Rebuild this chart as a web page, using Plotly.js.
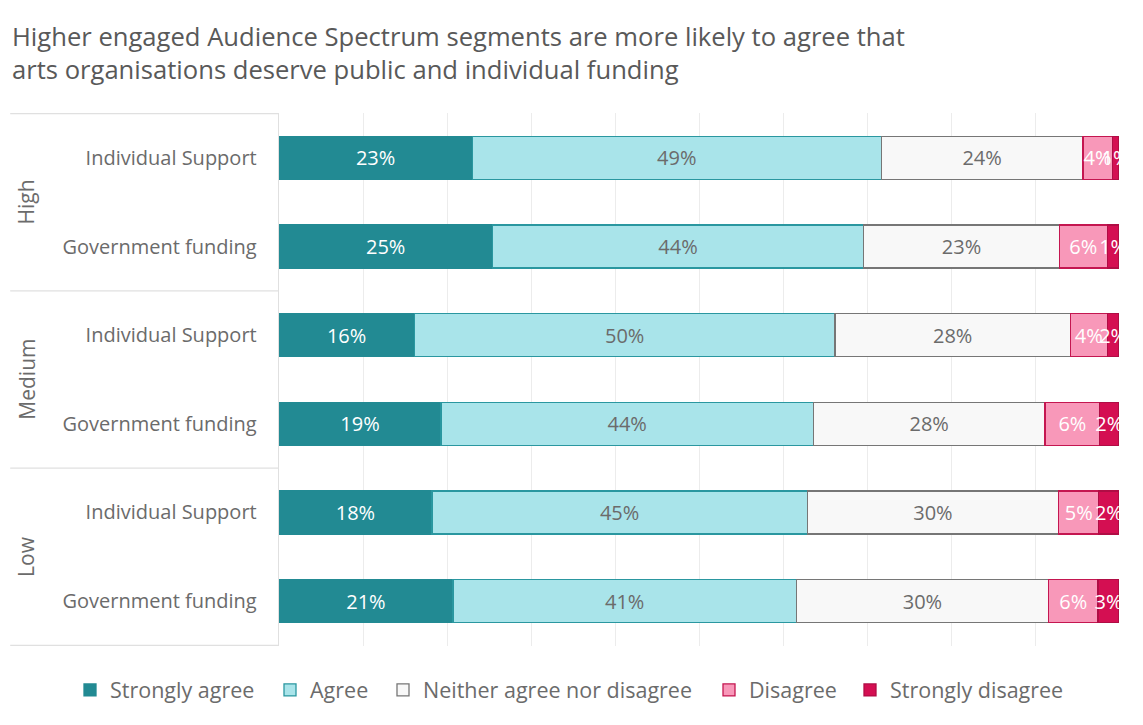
<!DOCTYPE html>
<html>
<head>
<meta charset="utf-8">
<script src="https://cdn.plot.ly/plotly-3.0.1.min.js"></script>
<style>html,body{margin:0;padding:0;background:#fff;}#chart{width:1143px;height:725px;}</style>
</head>
<body>
<div id="chart"></div>
<script>
// Data (top to bottom)
const groups = ["High", "High", "Medium", "Medium", "Low", "Low"];
const items = ["Individual Support", "Government funding", "Individual Support", "Government funding", "Individual Support", "Government funding"];
const seriesNames = ["Strongly agree", "Agree", "Neither agree nor disagree", "Disagree", "Strongly disagree"];
// bar lengths (percent, as drawn)
const stronglyAgree = [23.0, 25.4, 16.1, 19.3, 18.2, 20.7];
const agree = [48.7, 44.2, 50.1, 44.3, 44.7, 40.9];
const neither = [24.0, 23.3, 28.0, 27.6, 29.9, 30.0];
const disagree = [3.5, 5.7, 4.4, 6.5, 4.8, 5.9];
const stronglyDisagree = [0.8, 1.4, 1.4, 2.3, 2.4, 2.5];
// data labels (rounded, as printed)
const lblStronglyAgree = [23, 25, 16, 19, 18, 21];
const lblAgree = [49, 44, 50, 44, 45, 41];
const lblNeither = [24, 23, 28, 28, 30, 30];
const lblDisagree = [4, 6, 4, 6, 5, 6];
const lblStronglyDisagree = [1, 1, 2, 2, 2, 3];

const keys = items.map((it, i) => groups[i] + " | " + it);

const values = [stronglyAgree, agree, neither, disagree, stronglyDisagree];
const labels = [lblStronglyAgree, lblAgree, lblNeither, lblDisagree, lblStronglyDisagree];
const fills = ["#228A93", "#A9E4EA", "#F8F8F8", "#F898B9", "#D40F52"];
const borders = ["#228A93", "#2A97A0", "#767676", "#C41650", "#B00D45"];
const txtColors = ["#FFFFFF", "#6B6B6B", "#6B6B6B", "#FFFFFF", "#FFFFFF"];
// legend entry positions (left edge of each entry, px in the 1143px page)
const legendLeft = [70, 270, 383, 709, 850];

const FONT = "Open Sans, sans-serif";
const legendIds = ["legend", "legend2", "legend3", "legend4", "legend5"];

const traces = seriesNames.map((name, s) => ({
  type: "bar",
  orientation: "h",
  name: name,
  legend: legendIds[s],
  y: keys,
  x: values[s],
  text: labels[s].map(v => v + "%"),
  textposition: "inside",
  insidetextanchor: "middle",
  textangle: 0,
  textfont: {family: FONT, size: 20, color: txtColors[s]},
  marker: {color: fills[s], line: {color: borders[s], width: 1.3}},
  hoverinfo: "skip"
}));

// group labels and dividers
const uniq = [...new Set(groups)];
const annotations = uniq.map(g => {
  const idx = groups.map((x, i) => x === g ? i : -1).filter(i => i >= 0);
  const mid = (idx[0] + idx[idx.length - 1]) / 2;
  return {
    text: g, xref: "paper", yref: "y", x: -0.301, y: mid,
    textangle: -90, showarrow: false, xanchor: "center", yanchor: "middle",
    font: {family: FONT, size: 21, color: "#6B6B6B"}
  };
});
annotations.push({
  text: "Higher engaged Audience Spectrum segments are more likely to agree that<br>arts organisations deserve public and individual funding",
  xref: "paper", yref: "paper", x: -0.32, y: 1.0, xanchor: "left", yanchor: "bottom",
  yshift: 24, align: "left", showarrow: false,
  font: {family: FONT, size: 25.6, color: "#595959"}
});

const shapes = [];
const bounds = [-0.5];
for (let i = 1; i < groups.length; i++) if (groups[i] !== groups[i - 1]) bounds.push(i - 0.5);
bounds.push(groups.length - 0.5);
bounds.forEach(b => shapes.push({
  type: "line", xref: "paper", yref: "y", x0: -0.32, x1: 0, y0: b, y1: b,
  line: {color: "#E0E0E0", width: 1.3}
}));

const layout = {
  width: 1143, height: 725,
  margin: {l: 279, r: 24, t: 113, b: 79},
  paper_bgcolor: "#FFFFFF", plot_bgcolor: "#FFFFFF",
  barmode: "stack",
  bargap: 0.515,
  showlegend: true,
  uniformtext: {mode: "show", minsize: 20},
  xaxis: {
    range: [0, 100], dtick: 10, showticklabels: false, ticks: "",
    showgrid: true, gridcolor: "#ECECEC", gridwidth: 1, zeroline: false,
    fixedrange: true
  },
  yaxis: {
    type: "category", autorange: "reversed",
    tickvals: keys, ticktext: items, ticks: "",
    ticklabelstandoff: 17,
    tickfont: {family: FONT, size: 20, color: "#6B6B6B"},
    showline: true, linecolor: "#E0E0E0", linewidth: 1.3,
    showgrid: false, fixedrange: true
  },
  annotations: annotations,
  shapes: shapes
};
legendIds.forEach((id, s) => {
  layout[id] = {
    orientation: "h", xref: "container", yref: "container",
    x: legendLeft[s] / 1143, xanchor: "left", y: 35 / 725, yanchor: "middle",
    font: {family: FONT, size: 21.5, color: "#6B6B6B"},
    itemwidth: 30, bgcolor: "rgba(0,0,0,0)"
  };
});

Plotly.newPlot("chart", traces, layout, {displayModeBar: false, staticPlot: true});
</script>
</body>
</html>
